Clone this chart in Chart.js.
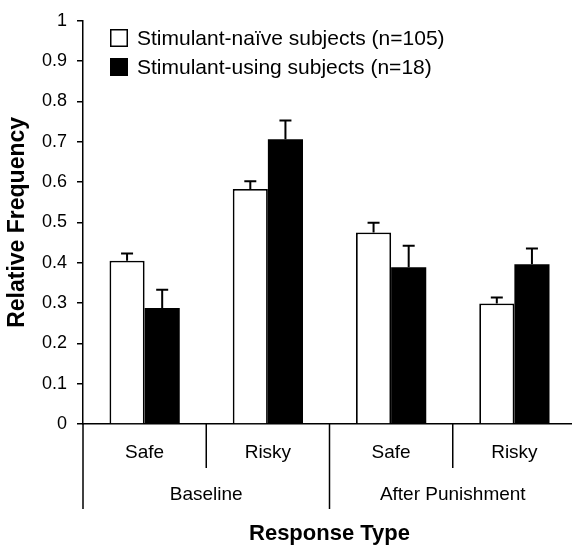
<!DOCTYPE html>
<html>
<head>
<meta charset="utf-8">
<script src="https://cdn.jsdelivr.net/npm/chart.js@4.4.1/dist/chart.umd.min.js"></script>
<style>
    html, body { margin: 0; padding: 0; background: #fff; overflow: hidden; width: 572px; height: 547px; }
    canvas { display: block; }
</style>
</head>
<body>
<canvas id="grafico" width="580" height="547"></canvas>
<script>
// dados
var subLabels = ['Safe', 'Risky', 'Safe', 'Risky'];
var groupLabels = ['Baseline', 'After Punishment'];
var yTickLabels = ['0', '0.1', '0.2', '0.3', '0.4', '0.5', '0.6', '0.7', '0.8', '0.9', '1'];

var naiveMean = [0.405, 0.583, 0.475, 0.299];
var naiveErr = [0.018, 0.019, 0.024, 0.015];
var usingMean = [0.288, 0.706, 0.389, 0.396];
var usingErr = [0.045, 0.047, 0.053, 0.039];

var fonte = '"Liberation Sans", Arial, Helvetica, sans-serif';

// barras de erro (so para cima), divisorias, rotulos de baixo e legenda
var extras = {
    id: 'extras',
    afterDatasetsDraw: function (chart) {
        var ctx = chart.ctx;
        var y = chart.scales.y;
        var erros = [naiveErr, usingErr];

        ctx.save();
        ctx.strokeStyle = '#000';
        ctx.lineWidth = 2;
        chart.data.datasets.forEach(function (ds, d) {
            chart.getDatasetMeta(d).data.forEach(function (bar, i) {
                var topo = y.getPixelForValue(ds.data[i] + erros[d][i]);
                ctx.beginPath();
                ctx.moveTo(bar.x, bar.y);
                ctx.lineTo(bar.x, topo);
                ctx.moveTo(bar.x - 6, topo);
                ctx.lineTo(bar.x + 6, topo);
                ctx.stroke();
            });
        });
        ctx.restore();
    },
    afterDraw: function (chart) {
        var ctx = chart.ctx;
        var x = chart.scales.x;
        var base = chart.chartArea.bottom;
        var n = subLabels.length;
        var passo = (x.getPixelForTick(1) - x.getPixelForTick(0));
        var bordas = [];
        for (var i = 0; i <= n; i++) {
            bordas.push(x.getPixelForTick(0) - passo / 2 + passo * i);
        }

        ctx.save();
        ctx.strokeStyle = '#000';
        ctx.lineWidth = 1.5;
        bordas.forEach(function (bx, i) {
            if (i === n) return;
            var fim = (i % 2 === 0) ? base + 85 : base + 44;
            ctx.beginPath();
            ctx.moveTo(bx, base);
            ctx.lineTo(bx, fim);
            ctx.stroke();
        });

        ctx.fillStyle = '#000';
        ctx.textAlign = 'center';
        ctx.textBaseline = 'middle';
        ctx.font = '19px ' + fonte;
        subLabels.forEach(function (lab, i) {
            ctx.fillText(lab, x.getPixelForTick(i), base + 29);
        });
        groupLabels.forEach(function (lab, g) {
            var cx = (bordas[g * 2] + bordas[g * 2 + 2]) / 2;
            ctx.fillText(lab, cx, base + 71);
        });

        // legenda
        ctx.textAlign = 'left';
        ctx.font = '21px ' + fonte;
        chart.data.datasets.forEach(function (ds, d) {
            var cy = 38 + d * 29;
            ctx.fillStyle = ds.backgroundColor;
            ctx.fillRect(110, cy - 9, 18, 18);
            ctx.lineWidth = 1.5;
            ctx.strokeRect(110.75, cy - 8.25, 16.5, 16.5);
            ctx.fillStyle = '#000';
            ctx.fillText(ds.label, 137, cy + 1);
        });
        ctx.restore();
    }
};

var ctx = document.getElementById('grafico').getContext('2d');
var grafico = new Chart(ctx, {
    type: 'bar',
    data: {
        labels: subLabels,
        datasets: [{
            label: 'Stimulant-naïve subjects (n=105)',
            data: naiveMean,
            backgroundColor: '#ffffff',
            borderColor: '#000000',
            borderWidth: 1.8,
            borderSkipped: 'bottom'
        }, {
            label: 'Stimulant-using subjects (n=18)',
            data: usingMean,
            backgroundColor: '#000000',
            borderColor: '#000000',
            borderWidth: 0
        }]
    },
    options: {
        responsive: false,
        animation: false,
        devicePixelRatio: 1,
        categoryPercentage: 0.57,
        barPercentage: 1,
        layout: { padding: { left: 0, right: 4, top: 17, bottom: 0 } },
        plugins: {
            legend: { display: false },
            tooltip: { enabled: false }
        },
        scales: {
            x: {
                offset: true,
                grid: { display: false },
                ticks: { display: false },
                border: { display: true, color: '#000', width: 1.5 },
                title: {
                    display: true,
                    text: 'Response Type',
                    color: '#000',
                    font: { family: fonte, size: 22, weight: 'bold' },
                    padding: { top: 0, bottom: 0 }
                },
                afterFit: function (scale) { scale.height = 123; }
            },
            y: {
                min: 0,
                max: 1,
                ticks: {
                    stepSize: 0.1,
                    color: '#000',
                    padding: 10,
                    font: { family: fonte, size: 18 },
                    callback: function (v, i) { return yTickLabels[i]; }
                },
                grid: {
                    drawOnChartArea: false,
                    drawTicks: true,
                    tickLength: 6,
                    color: '#000',
                    lineWidth: 1.5
                },
                border: { display: true, color: '#000', width: 1.5 },
                title: {
                    display: true,
                    text: 'Relative Frequency',
                    color: '#000',
                    font: { family: fonte, size: 23, weight: 'bold' },
                    padding: { top: 4, bottom: 0 }
                },
                afterFit: function (scale) { scale.width = 83; }
            }
        }
    },
    plugins: [extras]
});
</script>
</body>
</html>
